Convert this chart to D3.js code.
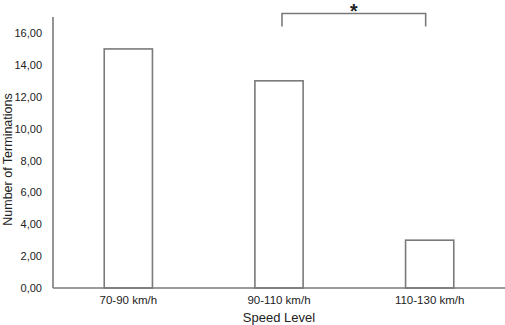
<!DOCTYPE html>
<html><head><meta charset="utf-8">
<script src="https://cdn.jsdelivr.net/npm/d3@7"></script>
<style>body{margin:0;background:#fff}svg{display:block}</style>
</head><body>
<script>
const categories = ["70-90 km/h", "90-110 km/h", "110-130 km/h"];
const values = [15, 13, 3];
const yTicks = [0, 2, 4, 6, 8, 10, 12, 14, 16];
const bracketPair = ["90-110 km/h", "110-130 km/h"];
const bracketLabel = "*";

const W = 505, H = 325;
const svg = d3.select("body").append("svg").attr("width", W).attr("height", H);
const x0 = 53, x1 = 505, yBase = 288, yTop = 17;
const x = d3.scaleBand().domain(categories).range([x0, x1]).padding(0);
const y = d3.scaleLinear().domain([0, 16]).range([yBase, 33]);
const barW = x.bandwidth() * 0.32;
const axisColor = "#7a7a7a", textColor = "#222";
const font = "Liberation Sans, Arial, sans-serif";

// bars
svg.selectAll("rect.bar").data(values).enter().append("rect")
  .attr("x", (d, i) => x(categories[i]) + x.bandwidth() / 2 - barW / 2)
  .attr("y", d => y(d))
  .attr("width", barW)
  .attr("height", d => yBase - y(d))
  .attr("fill", "#fff").attr("stroke", axisColor).attr("stroke-width", 1.6);

// y axis
const yAxis = d3.axisLeft(y).tickValues(yTicks).tickSize(0).tickPadding(11)
  .tickFormat(d => d3.format(".2f")(d).replace(".", ","));
const gy = svg.append("g").attr("transform", `translate(${x0},0)`).call(yAxis);
gy.select(".domain").remove();
gy.selectAll("text").attr("font-family", font).attr("font-size", 11).attr("fill", textColor);
svg.append("line").attr("x1", x0).attr("x2", x0).attr("y1", yTop).attr("y2", yBase)
  .attr("stroke", axisColor).attr("stroke-width", 1.6);

// x axis
const xAxis = d3.axisBottom(x).tickSize(0).tickPadding(8);
const gx = svg.append("g").attr("transform", `translate(0,${yBase})`).call(xAxis);
gx.select(".domain").remove();
gx.selectAll("text").attr("font-family", font).attr("font-size", 11.5).attr("fill", textColor);
svg.append("line").attr("x1", x0).attr("x2", x1).attr("y1", yBase).attr("y2", yBase)
  .attr("stroke", axisColor).attr("stroke-width", 1.6);

// axis titles
svg.append("text").attr("x", (x0 + x1) / 2).attr("y", 322)
  .attr("text-anchor", "middle").attr("font-family", font).attr("font-size", 13)
  .attr("fill", textColor).text("Speed Level");
svg.append("text").attr("transform", `translate(12,${(yTop + yBase) / 2 + 7}) rotate(-90)`)
  .attr("text-anchor", "middle").attr("font-family", font).attr("font-size", 12.5)
  .attr("fill", textColor).text("Number of Terminations");

// significance bracket
const bx1 = x(bracketPair[0]) + x.bandwidth() / 2 + 3;
const bx2 = x(bracketPair[1]) + x.bandwidth() / 2 - 4;
const by = 13.5, bDrop = 13;
svg.append("path")
  .attr("d", `M${bx1},${by + bDrop} L${bx1},${by} L${bx2},${by} L${bx2},${by + bDrop}`)
  .attr("fill", "none").attr("stroke", axisColor).attr("stroke-width", 1.6);
svg.append("text").attr("x", (bx1 + bx2) / 2).attr("y", 18)
  .attr("text-anchor", "middle").attr("font-family", font).attr("font-size", 19.5)
  .attr("font-weight", "bold").attr("fill", textColor).text(bracketLabel);
</script>
</body></html>
